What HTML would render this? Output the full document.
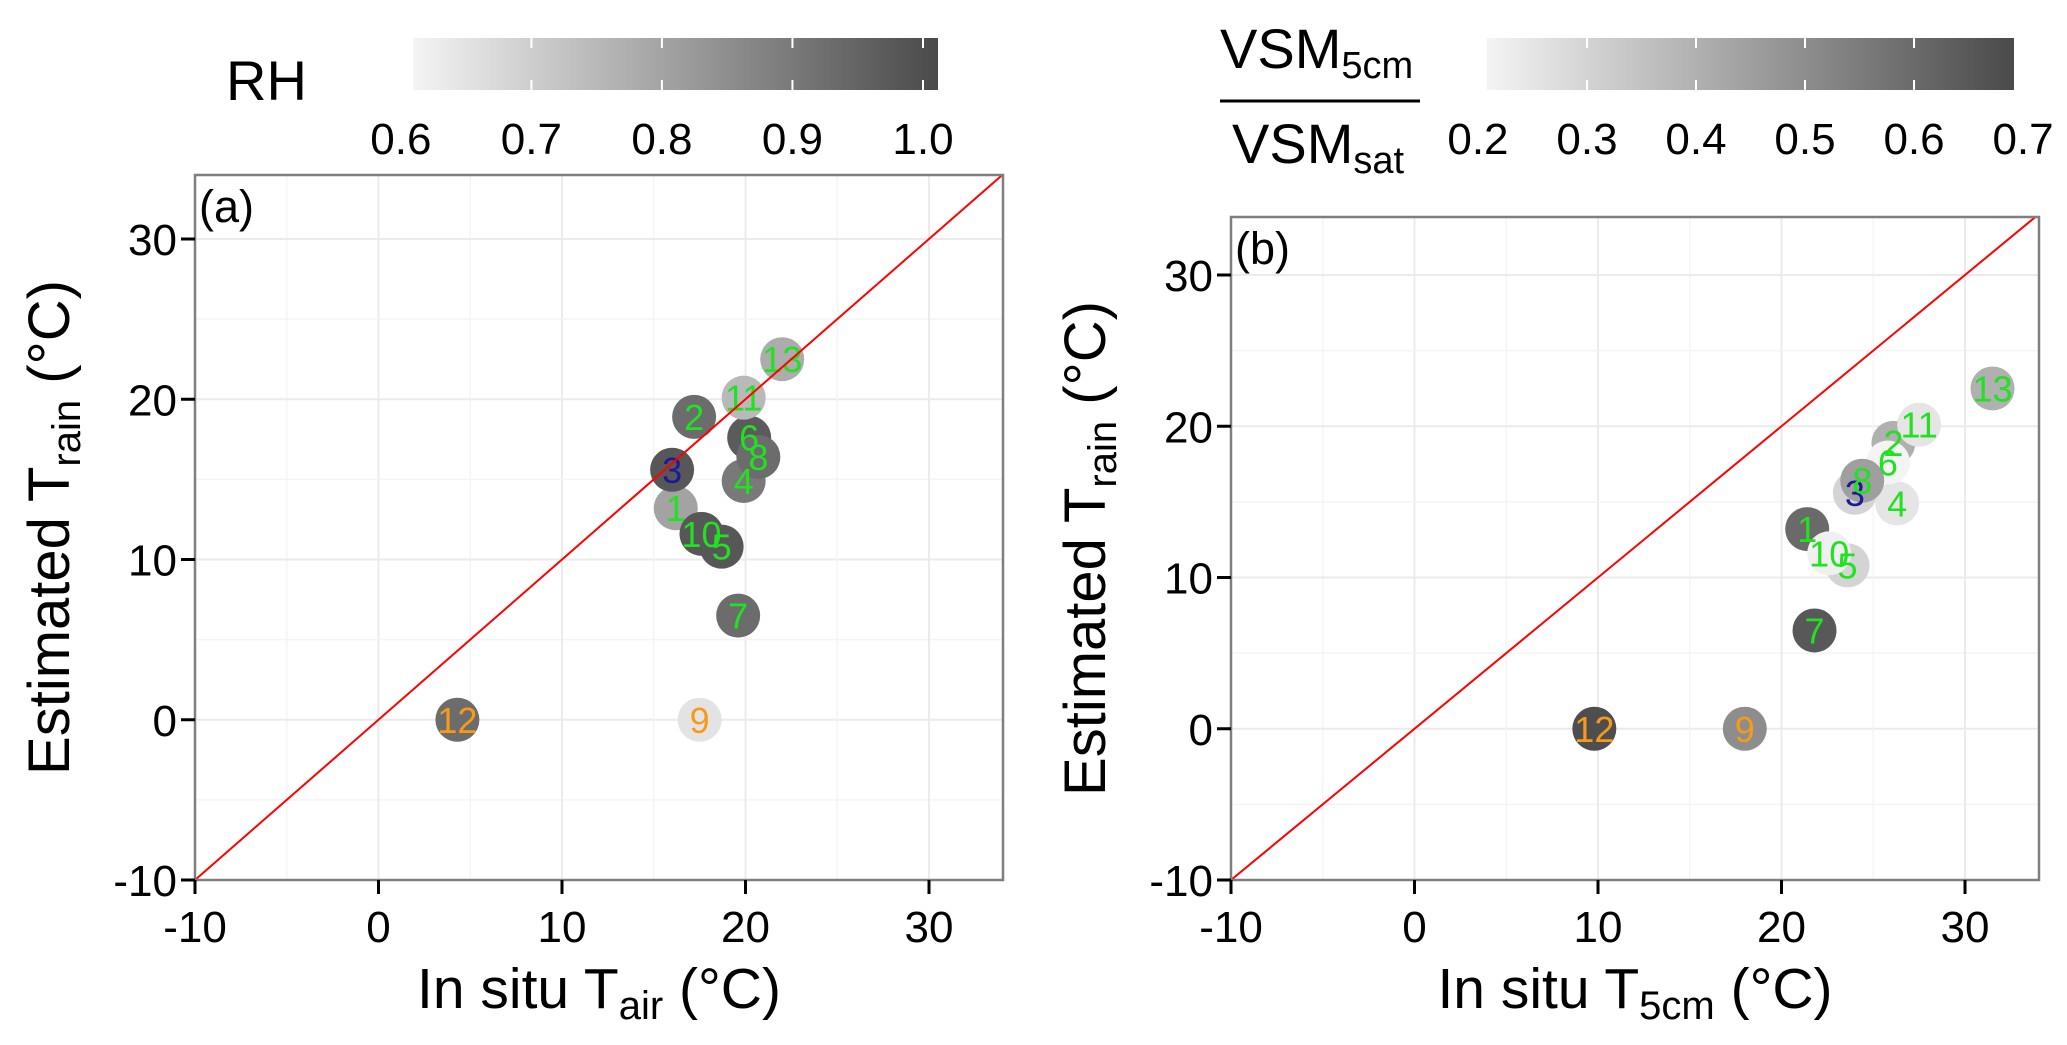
<!DOCTYPE html>
<html><head><meta charset="utf-8">
<style>
html,body{margin:0;padding:0;background:#fff;}
svg{display:block;font-family:"Liberation Sans",Arial,sans-serif;}
</style></head>
<body>
<svg id="fig" width="2067" height="1045" viewBox="0 0 2067 1045">
<defs>
<linearGradient id="gradA" x1="0" x2="1" y1="0" y2="0"><stop offset="0" stop-color="#f4f4f4"/><stop offset="1" stop-color="#4a4a4a"/></linearGradient>
<linearGradient id="gradB" x1="0" x2="1" y1="0" y2="0"><stop offset="0" stop-color="#f4f4f4"/><stop offset="1" stop-color="#4a4a4a"/></linearGradient>
</defs>
<g id="panelA"></g>
<g id="panelB"></g>
</svg>
<script>
const siteLabels = ["1","2","3","4","5","6","7","8","9","10","11","12","13"];
const tairValues = [16.2,17.2,16.0,19.9,18.7,20.2,19.6,20.7,17.5,17.6,19.9,4.3,22.0];
const t5cmValues = [21.4,26.1,24.0,26.3,23.6,25.8,21.8,24.4,18.0,22.6,27.5,9.8,31.5];
const trainValues = [13.2,18.9,15.6,14.9,10.8,17.6,6.5,16.4,0,11.6,20.1,0,22.5];
const rhValues = [0.80,0.93,0.98,0.90,0.98,0.97,0.93,0.93,0.65,0.98,0.75,0.93,0.78];
const vsmValues = [0.60,0.40,0.30,0.25,0.30,0.20,0.65,0.45,0.50,0.22,0.25,0.68,0.40];
const labelColors = ["#22e022","#22e022","#1a1a9a","#22e022","#22e022","#22e022","#22e022","#22e022","#f59a1a","#22e022","#22e022","#f59a1a","#22e022"];
const axisTicks = [-10,0,10,20,30];
const rhTicks = ["0.6","0.7","0.8","0.9","1.0"];
const vsmTicks = ["0.2","0.3","0.4","0.5","0.6","0.7"];

const NS="http://www.w3.org/2000/svg";
function mk(parent,tag,attrs,text){const e=document.createElementNS(NS,tag);for(const k in attrs)e.setAttribute(k,attrs[k]);if(text!==undefined)e.textContent=text;parent.appendChild(e);return e;}
function grey(t){t=Math.max(0,Math.min(1,t));const v=Math.round(244-t*(244-74));return `rgb(${v},${v},${v})`;}

function panel(g,cfg){
  const sx=v=>cfg.L+(v+10)*(cfg.x30-cfg.L)/40;
  const sy=v=>cfg.B-(v+10)*(cfg.B-cfg.y30)/40;
  const R=cfg.R,T=cfg.T,L=cfg.L,B=cfg.B;
  for(let v=-5;v<=34;v+=5){
    const major=v%10===0;
    let e=mk(g,'line',{x1:sx(v),x2:sx(v),y1:T,y2:B,stroke:major?'#ebebeb':'#f4f4f4','stroke-width':major?2:1.5});
    
    e=mk(g,'line',{x1:L,x2:R,y1:sy(v),y2:sy(v),stroke:major?'#ebebeb':'#f4f4f4','stroke-width':major?2:1.5});
    
  }
  for(let i=0;i<siteLabels.length;i++){
    const cx=sx(cfg.xs[i]),cy=sy(trainValues[i]);
    const c=mk(g,'circle',{cx:cx,cy:cy,r:22,fill:grey((cfg.cs[i]-cfg.cmin)/(cfg.cmax-cfg.cmin))});
    
    
  }
  for(let i=0;i<siteLabels.length;i++){
    const cx=sx(cfg.xs[i]),cy=sy(trainValues[i]);
    const t=mk(g,'text',{x:cx,y:cy+13,'text-anchor':'middle','font-size':36,fill:labelColors[i]},siteLabels[i]);
    
    
  }
  const ymaxv=-10+(B-T)*40/(B-cfg.y30), xmaxv=-10+(R-L)*40/(cfg.x30-L);
  const m=Math.min(ymaxv,xmaxv);
  const ln=mk(g,'line',{x1:sx(-10),y1:sy(-10),x2:sx(m),y2:sy(m),stroke:'#ff0000','stroke-width':2});
  
  const br=mk(g,'rect',{x:L,y:T,width:R-L,height:B-T,fill:'none',stroke:'#7f7f7f','stroke-width':2.5});
  
  for(const v of axisTicks){
    let e=mk(g,'line',{x1:sx(v),x2:sx(v),y1:B,y2:B+14,stroke:'#000','stroke-width':3});
    
    e=mk(g,'text',{x:sx(v),y:B+62,'text-anchor':'middle','font-size':44},String(v));
    
    e=mk(g,'line',{x1:L-14,x2:L,y1:sy(v),y2:sy(v),stroke:'#000','stroke-width':3});
    
    e=mk(g,'text',{x:L-18,y:sy(v)+16,'text-anchor':'end','font-size':44},String(v));
    
  }
  const pl=mk(g,'text',{x:L+4,y:T+47,'font-size':45},cfg.tag);
  
  const xt=mk(g,'text',{x:(L+R)/2,y:1008,'text-anchor':'middle','font-size':57});
  
  mk(xt,'tspan',{},'In situ T');
  mk(xt,'tspan',{'font-size':40,dy:11},cfg.xsub);
  mk(xt,'tspan',{dy:-11},' (°C)');
  const yc=(T+B)/2;
  const yt=mk(g,'text',{x:0,y:0,'text-anchor':'middle','font-size':58,transform:`translate(${cfg.L-126},${yc}) rotate(-90)`});
  
  mk(yt,'tspan',{},'Estimated T');
  mk(yt,'tspan',{'font-size':40,dy:11},'rain');
  mk(yt,'tspan',{dy:-11},' (°C)');
  return {sx,sy};
}

panel(document.getElementById('panelA'),{L:195,R:1003,T:175,B:880,x30:929,y30:239,xs:tairValues,cs:rhValues,cmin:0.61,cmax:1.01,tag:'(a)',xsub:'air'});
panel(document.getElementById('panelB'),{L:1231,R:2039,T:217,B:880,x30:1965,y30:275,xs:t5cmValues,cs:vsmValues,cmin:0.208,cmax:0.69,tag:'(b)',xsub:'5cm'});

function colorbar(g,x0,x1,vmin,vmax,ticks,grad){
  const sc=v=>x0+(v-vmin)*(x1-x0)/(vmax-vmin);
  const r=mk(g,'rect',{x:x0,y:38,width:x1-x0,height:52,fill:`url(#${grad})`});
  
  for(const t of ticks){
    const xv=sc(parseFloat(t));
    if(xv>x0+2&&xv<x1-2){
      mk(g,'line',{x1:xv,x2:xv,y1:38,y2:48,stroke:'#fff','stroke-width':2});
      mk(g,'line',{x1:xv,x2:xv,y1:80,y2:90,stroke:'#fff','stroke-width':2});
    }
    const e=mk(g,'text',{x:xv,y:154,'text-anchor':'middle','font-size':44},t);
    
  }
}
const svg=document.getElementById('fig');
const legA=mk(svg,'g',{});

colorbar(legA,413,938,0.6093,1.0115,rhTicks,'gradA');
const rh=mk(legA,'text',{x:226,y:100,'font-size':56},'RH');


const legB=mk(svg,'g',{});

colorbar(legB,1487,2014,0.2083,0.6917,vsmTicks,'gradB');
const t1=mk(legB,'text',{x:1220,y:68,'font-size':56});

mk(t1,'tspan',{},'VSM');mk(t1,'tspan',{'font-size':38,dy:10},'5cm');
const fl=mk(legB,'line',{x1:1220,x2:1420,y1:101,y2:101,stroke:'#000','stroke-width':3});

const t2=mk(legB,'text',{x:1232,y:163,'font-size':56});

mk(t2,'tspan',{},'VSM');mk(t2,'tspan',{'font-size':38,dy:10},'sat');
</script>
</body></html>
